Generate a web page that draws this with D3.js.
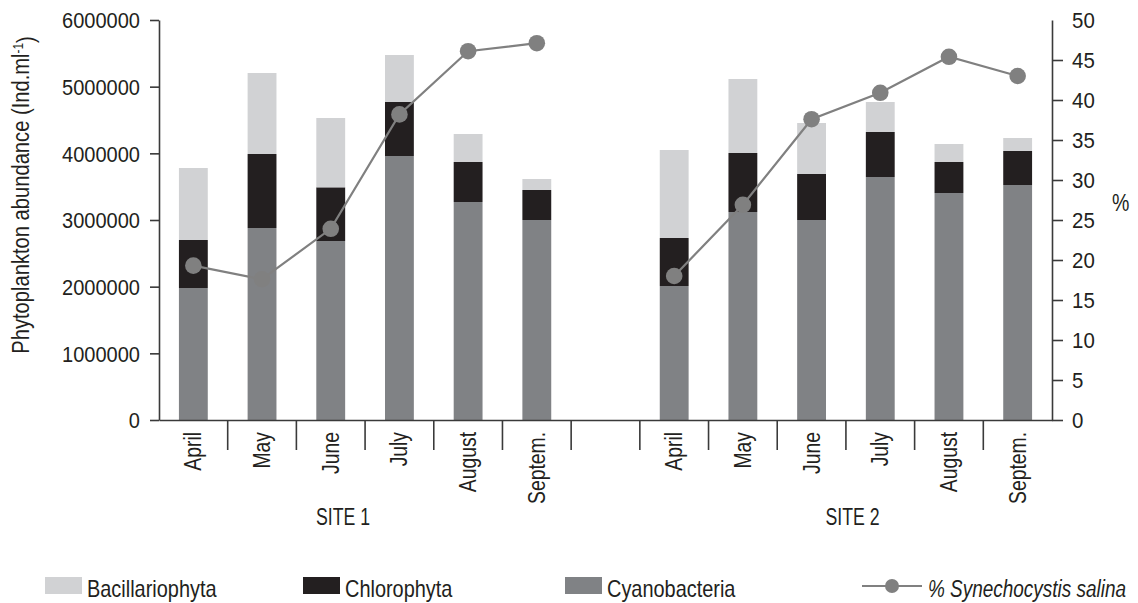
<!DOCTYPE html>
<html>
<head>
<meta charset="utf-8">
<script src="https://cdn.jsdelivr.net/npm/d3@7"></script>
<style>
html,body{margin:0;padding:0;background:#fff;}
svg{display:block;}
text{font-family:"Liberation Sans",Arial,sans-serif;fill:#231f20;}
</style>
</head>
<body>
<svg id="chart" width="1138" height="603"></svg>
<script>
// ---- data ----
const categories = ["April", "May", "June", "July", "August", "Septem."];
const sites = ["SITE 1", "SITE 2"];
const seriesNames = ["Cyanobacteria", "Chlorophyta", "Bacillariophyta"];
const lineName = "Synechocystis salina";
// Site 1 abundances (Ind.ml-1)
const cyano1  = [1980000, 2880000, 2685000, 3960000, 3270000, 3000000];
const chloro1 = [ 720000, 1110000,  805000,  810000,  600000,  450000];
const bacil1  = [1080000, 1215000, 1040000,  705000,  420000,  165000];
// Site 2 abundances
const cyano2  = [2010000, 3120000, 3000000, 3645000, 3405000, 3525000];
const chloro2 = [ 720000,  885000,  690000,  675000,  465000,  510000];
const bacil2  = [1320000, 1110000,  765000,  450000,  270000,  195000];
// % Synechocystis salina
const pct1 = [19.3, 17.6, 23.9, 38.2, 46.1, 47.1];
const pct2 = [18.0, 26.9, 37.6, 40.9, 45.4, 43.0];
const leftTicks = [0, 1000000, 2000000, 3000000, 4000000, 5000000, 6000000];
const rightTicks = [0, 5, 10, 15, 20, 25, 30, 35, 40, 45, 50];

const colors = {Cyanobacteria: "#808285", Chlorophyta: "#231f20", Bacillariophyta: "#d1d2d4"};
const lineColor = "#808080";
const axisColor = "#3a3a3a";

function condense(sel, f) {
  sel.each(function () {
    const w = this.getComputedTextLength();
    this.setAttribute("textLength", (w * f).toFixed(2));
    this.setAttribute("lengthAdjust", "spacingAndGlyphs");
  });
}

// ---- build rows ----
const rows = [];
categories.forEach((c, i) => rows.push({key: "s1-" + c, cat: c, site: 0, Cyanobacteria: cyano1[i], Chlorophyta: chloro1[i], Bacillariophyta: bacil1[i], pct: pct1[i]}));
rows.push({key: "gap", cat: "", site: -1});
categories.forEach((c, i) => rows.push({key: "s2-" + c, cat: c, site: 1, Cyanobacteria: cyano2[i], Chlorophyta: chloro2[i], Bacillariophyta: bacil2[i], pct: pct2[i]}));
const dataRows = rows.filter(r => r.site >= 0);

const svg = d3.select("#chart");
const L = 159, R = 1052, T = 20, B = 420;

const x = d3.scaleBand().domain(rows.map(r => r.key)).range([L, R]).padding(0);
const y = d3.scaleLinear().domain([0, 6000000]).range([B, T]);
const y2 = d3.scaleLinear().domain([0, 50]).range([B, T]);
const barW = x.bandwidth() * 0.42;

// ---- bars ----
const stack = d3.stack().keys(seriesNames)(dataRows);
svg.append("g").selectAll("g").data(stack).join("g")
  .attr("fill", d => colors[d.key])
  .selectAll("rect").data(d => d).join("rect")
  .attr("x", d => x(d.data.key) + (x.bandwidth() - barW) / 2)
  .attr("width", barW)
  .attr("y", d => y(d[1]))
  .attr("height", d => y(d[0]) - y(d[1]));

// ---- axes ----
const yAxis = d3.axisLeft(y).tickValues(leftTicks).tickFormat(d3.format("d")).tickSize(9).tickSizeOuter(0).tickPadding(10);
const gy = svg.append("g").attr("transform", `translate(${L},0)`).call(yAxis);

const y2Axis = d3.axisRight(y2).tickValues(rightTicks).tickSize(11).tickSizeOuter(0).tickPadding(9);
const gy2 = svg.append("g").attr("transform", `translate(${R},0)`).call(y2Axis);
gy2.selectAll(".tick").filter(d => d === 50).select("line").remove();

const xAxis = d3.axisBottom(x).tickSize(0).tickSizeOuter(0).tickFormat("");
const gx = svg.append("g").attr("transform", `translate(0,${B})`).call(xAxis);

[gy, gy2, gx].forEach(g => {
  g.attr("font-family", null).attr("font-size", null);
  g.select(".domain").attr("stroke", axisColor).attr("stroke-width", 1.6);
  g.selectAll(".tick line").attr("stroke", axisColor).attr("stroke-width", 1.6);
  g.selectAll("text").attr("fill", "#231f20").style("font-size", "22px").attr("dy", "0.36em");
});
condense(gy.selectAll("text"), 0.91);
condense(gy2.selectAll("text"), 0.93);

// separators between categories
svg.append("g").selectAll("line").data(rows.slice(1)).join("line")
  .attr("x1", d => x(d.key)).attr("x2", d => x(d.key))
  .attr("y1", B).attr("y2", B + 30)
  .attr("stroke", axisColor).attr("stroke-width", 1.6);

// category labels
const catText = svg.append("g").selectAll("text").data(dataRows).join("text")
  .attr("transform", d => `translate(${x(d.key) + x.bandwidth() / 2},${B + 12}) rotate(-90)`)
  .attr("text-anchor", "end")
  .attr("dy", "0.35em")
  .style("font-size", "23px")
  .text(d => d.cat);
condense(catText, 0.84);

// site labels
const siteCenters = [343, 852.5];
const siteText = svg.append("g").selectAll("text").data(sites).join("text")
  .attr("x", (d, i) => siteCenters[i]).attr("y", 525)
  .attr("text-anchor", "middle")
  .style("font-size", "23px")
  .text(d => d);
condense(siteText, 0.77);

// ---- line ----
const line = d3.line().x(d => x(d.key) + x.bandwidth() / 2).y(d => y2(d.pct));
[0, 1].forEach(s => {
  const pts = dataRows.filter(r => r.site === s);
  svg.append("path").datum(pts).attr("d", line)
    .attr("fill", "none").attr("stroke", lineColor).attr("stroke-width", 2.2);
  svg.append("g").selectAll("circle").data(pts).join("circle")
    .attr("cx", d => x(d.key) + x.bandwidth() / 2)
    .attr("cy", d => y2(d.pct))
    .attr("r", 8.3)
    .attr("fill", lineColor);
});

// ---- axis titles ----
const yt = svg.append("text")
  .attr("transform", "translate(29,195) rotate(-90) scale(0.84,1)")
  .attr("text-anchor", "middle")
  .style("font-size", "24px");
yt.append("tspan").text("Phytoplankton abundance (Ind.ml");
yt.append("tspan").attr("dy", "-0.45em").style("font-size", "14px").text("-1");
yt.append("tspan").attr("dy", "0.45em").text(")");

svg.append("text").attr("x", 1112).attr("y", 211).style("font-size", "23px")
  .attr("transform", "translate(1112,0) scale(0.85,1) translate(-1112,0)").text("%");

// ---- legend ----
const legY = 577;
const legItems = [
  {name: "Bacillariophyta", x: 45},
  {name: "Chlorophyta", x: 303},
  {name: "Cyanobacteria", x: 565}
];
const lg = svg.append("g");
legItems.forEach(it => {
  lg.append("rect").attr("x", it.x).attr("y", legY).attr("width", 37).attr("height", 17).attr("fill", colors[it.name]);
  const t = lg.append("text").attr("x", it.x + 42).attr("y", legY + 20).style("font-size", "24px").text(it.name);
  condense(t, 0.83);
});
lg.append("line").attr("x1", 862).attr("x2", 922).attr("y1", legY + 9).attr("y2", legY + 9)
  .attr("stroke", lineColor).attr("stroke-width", 2.2);
lg.append("circle").attr("cx", 892).attr("cy", legY + 9).attr("r", 7).attr("fill", lineColor);
lg.append("text")
  .attr("transform", `translate(928,${legY + 20}) scale(0.79,1)`)
  .style("font-size", "24px").style("font-style", "italic")
  .text("% " + lineName);
</script>
</body>
</html>
